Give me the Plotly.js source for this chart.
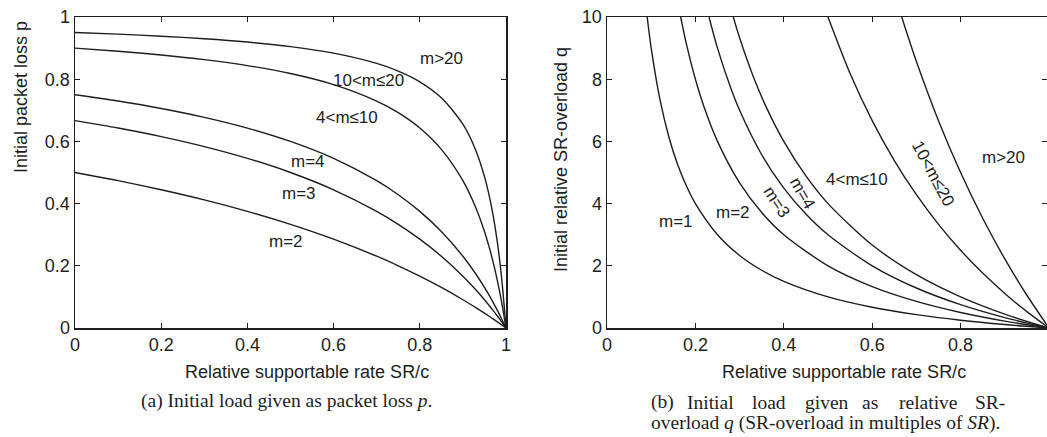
<!DOCTYPE html>
<html>
<head>
<meta charset="utf-8">
<script src="https://cdn.plot.ly/plotly-3.0.1.min.js"></script>
<style>html,body{margin:0;padding:0;background:#fff;}#chart{width:1047px;height:437px;}</style>
</head>
<body>
<div id="chart"></div>
<script>
// ---- Panel (a): initial packet loss p vs relative supportable rate SR/c ----
const xA = [0,0.1,0.2,0.3,0.4,0.5,0.6,0.7,0.75,0.8,0.85,0.9,0.93,0.95,0.96,0.97,0.98,0.99,1];
const pM2   = [0.5,0.4737,0.4444,0.4118,0.375,0.3333,0.2857,0.2308,0.2,0.1667,0.1304,0.0909,0.0654,0.0476,0.0385,0.0291,0.0196,0.0099,0];
const pM3   = [0.6667,0.6429,0.6154,0.5833,0.5455,0.5,0.4444,0.375,0.3333,0.2857,0.2308,0.1667,0.1228,0.0909,0.0741,0.0566,0.0385,0.0196,0];
const pM4   = [0.75,0.7297,0.7059,0.6774,0.6429,0.6,0.5455,0.4737,0.4286,0.375,0.3103,0.2308,0.1736,0.1304,0.1071,0.0826,0.0566,0.0291,0];
const pM10  = [0.9,0.8901,0.878,0.863,0.8438,0.8182,0.7826,0.7297,0.6923,0.6429,0.5745,0.4737,0.3865,0.3103,0.2647,0.2126,0.1525,0.0826,0];
const pM20  = [0.95,0.9448,0.9383,0.9301,0.9194,0.9048,0.8837,0.8507,0.8261,0.7917,0.7403,0.6552,0.5708,0.4872,0.4318,0.3631,0.2754,0.1597,0];
const labelsA = ["m>20","10<m≤20","4<m≤10","m=4","m=3","m=2"];
const labelAx = [0.851,0.681,0.630,0.540,0.519,0.489];
const labelAy = [0.868,0.797,0.678,0.534,0.434,0.277];

// ---- Panel (b): initial relative SR-overload q vs relative supportable rate SR/c ----
const xQ1 = [0.0909,0.1,0.12,0.14,0.16,0.18,0.2,0.25,0.3,0.35,0.4,0.5,0.6,0.7,0.8,0.9,1];
const qM1 = [10,9,7.333,6.143,5.25,4.556,4,3,2.333,1.857,1.5,1,0.667,0.4286,0.25,0.1111,0];
const xQ2 = [0.1667,0.18,0.2,0.22,0.25,0.3,0.35,0.4,0.5,0.6,0.7,0.8,0.9,1];
const qM2 = [10,9.111,8,7.091,6,4.667,3.714,3,2,1.333,0.857,0.5,0.2222,0];
const xQ3 = [0.2308,0.25,0.28,0.3,0.35,0.4,0.45,0.5,0.6,0.7,0.8,0.9,1];
const qM3 = [10,9,7.714,7,5.571,4.5,3.667,3,2,1.286,0.75,0.3333,0];
const xQ4 = [0.2857,0.3,0.33,0.36,0.4,0.45,0.5,0.6,0.7,0.8,0.9,1];
const qM4 = [10,9.333,8.121,7.111,6,4.889,4,2.667,1.714,1,0.4444,0];
const xQ10 = [0.5,0.55,0.6,0.65,0.7,0.75,0.8,0.85,0.9,0.95,1];
const qM10 = [10,8.182,6.667,5.385,4.286,3.333,2.5,1.765,1.111,0.5263,0];
const xQ20 = [0.6667,0.7,0.75,0.8,0.85,0.9,0.95,1];
const qM20 = [10,8.571,6.667,5,3.529,2.222,1.053,0];
const labelsB = ["m=1","m=2","m=3","m=4","4<m≤10","10<m≤20","m>20"];
const labelBx = [0.156,0.285,0.385,0.443,0.566,0.738,0.896];
const labelBy = [3.41,3.73,4.05,4.34,4.76,4.98,5.47];
const labelBangle = [0,0,57,60,0,62,0];

const tickA = [0,0.2,0.4,0.6,0.8,1];
const tickB = [0,0.2,0.4,0.6,0.8];
const tickP = [0,0.2,0.4,0.6,0.8,1];
const tickQ = [0,2,4,6,8,10];

const ink = '#1e1e1e';
const sans = 'Liberation Sans, Arial, sans-serif';
const serif = 'Liberation Serif, Times New Roman, serif';
const lineStyle = {color: ink, width: 1.4, shape: 'spline', smoothing: 0.8};

const traces = [];
[pM2,pM3,pM4,pM10,pM20].forEach(ys => traces.push({x: xA, y: ys, xaxis:'x', yaxis:'y', mode:'lines', line: lineStyle, hoverinfo:'skip'}));
[[xQ1,qM1],[xQ2,qM2],[xQ3,qM3],[xQ4,qM4],[xQ10,qM10],[xQ20,qM20]].forEach(([xs,ys]) => traces.push({x: xs, y: ys, xaxis:'x2', yaxis:'y2', mode:'lines', line: lineStyle, hoverinfo:'skip'}));

const axCommon = {showline:true, linecolor: ink, linewidth:1.5, mirror:'ticks', ticks:'inside', ticklen:5, tickwidth:1, tickcolor: ink, showgrid:false, zeroline:false, tickfont:{family: sans, size:18, color: ink}};

const W = 1047, H = 437;
const px = v => v / W, py = v => (H - v) / H;

const annotations = [];
labelsA.forEach((t,i) => annotations.push({xref:'x', yref:'y', x: labelAx[i], y: labelAy[i], xanchor:'center', yanchor:'middle', text: t, showarrow:false, font:{family: sans, size:17, color: ink}}));
labelsB.forEach((t,i) => annotations.push({xref:'x2', yref:'y2', x: labelBx[i], y: labelBy[i], xanchor:'center', yanchor:'middle', text: t, showarrow:false, textangle: labelBangle[i], font:{family: sans, size:17, color: ink}}));

function paperText(x, y, text, opts) {
  annotations.push(Object.assign({xref:'paper', yref:'paper', x: px(x), y: py(y), xanchor:'center', yanchor:'middle', text: text, showarrow:false, font:{family: sans, size:18, color: ink}}, opts || {}));
}
// axis titles
paperText(21, 97, 'Initial packet loss p', {textangle:-90});
paperText(561, 160, 'Initial relative SR-overload q', {textangle:-90});
paperText(307, 372, 'Relative supportable rate SR/c');
paperText(844, 372, 'Relative supportable rate SR/c');

// captions
const capFont = {family: serif, size:19.5, color: ink};
paperText(139, 401, '(a) Initial load given as packet loss <i>p</i>.', {xanchor:'left', font: capFont});
const capWords = ['(b)','Initial','load','given','as','relative','SR-'];
const capWordX = [649,685,750,803,860,897,973];
capWords.forEach((w,i) => paperText(capWordX[i], 402, w, {xanchor:'left', font: capFont}));
paperText(649, 423, 'overload <i>q</i> (SR-overload in multiples of <i>SR</i>).', {xanchor:'left', font: capFont});

const layout = {
  width: W, height: H,
  margin: {l:0, r:0, t:0, b:0},
  paper_bgcolor:'#fff', plot_bgcolor:'#fff',
  showlegend:false,
  xaxis: Object.assign({}, axCommon, {domain:[px(75), px(506)], range:[0,1], tickvals: tickA, ticktext: tickA.map(String), anchor:'y'}),
  yaxis: Object.assign({}, axCommon, {domain:[py(328), py(17)], range:[0,1], tickvals: tickP, ticktext: tickP.map(String), anchor:'x'}),
  xaxis2: Object.assign({}, axCommon, {domain:[px(607), 1], range:[0,(W-607)/442], tickvals: tickB, ticktext: tickB.map(String), anchor:'y2'}),
  yaxis2: Object.assign({}, axCommon, {domain:[py(328), py(17)], range:[0,10], tickvals: tickQ, ticktext: tickQ.map(String), anchor:'x2'}),
  annotations: annotations
};

Plotly.newPlot('chart', traces, layout, {staticPlot:true, displayModeBar:false});
</script>
</body>
</html>
